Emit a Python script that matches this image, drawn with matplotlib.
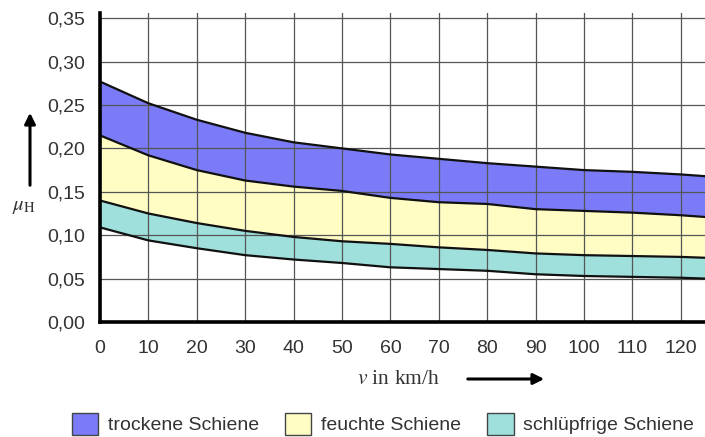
import matplotlib
matplotlib.use("Agg")
import matplotlib.pyplot as plt
from matplotlib.patches import Patch, FancyArrowPatch

# Speed (km/h) and adhesion coefficient bounds
speed = [0, 10, 20, 30, 40, 50, 60, 70, 80, 90, 100, 110, 120, 125]
dry_upper = [0.277, 0.252, 0.233, 0.218, 0.207, 0.200, 0.193, 0.188, 0.183, 0.179, 0.175, 0.173, 0.170, 0.168]
wet_upper = [0.215, 0.192, 0.175, 0.163, 0.156, 0.151, 0.143, 0.138, 0.136, 0.130, 0.128, 0.126, 0.123, 0.121]
slippery_upper = [0.140, 0.125, 0.114, 0.105, 0.098, 0.093, 0.090, 0.086, 0.083, 0.079, 0.077, 0.076, 0.075, 0.074]
slippery_lower = [0.109, 0.094, 0.085, 0.077, 0.072, 0.068, 0.063, 0.061, 0.059, 0.055, 0.053, 0.052, 0.051, 0.050]

x_ticks = [0, 10, 20, 30, 40, 50, 60, 70, 80, 90, 100, 110, 120]
y_ticks = [0.00, 0.05, 0.10, 0.15, 0.20, 0.25, 0.30, 0.35]
y_tick_labels = ["0,00", "0,05", "0,10", "0,15", "0,20", "0,25", "0,30", "0,35"]
legend_labels = ["trockene Schiene", "feuchte Schiene", "schlüpfrige Schiene"]

c_dry = "#7b7bf8"
c_wet = "#fffcc4"
c_slip = "#9fe0dc"
text_col = "#333333"

plt.rcParams["font.family"] = ["Liberation Sans", "DejaVu Sans"]
plt.rcParams["mathtext.fontset"] = "stix"

fig = plt.figure(figsize=(7.05, 4.37), dpi=100)
ax = fig.add_axes([100 / 705, 1 - 322 / 437, 605 / 705, 309 / 437])

ax.fill_between(speed, wet_upper, dry_upper, color=c_dry, lw=0, zorder=1)
ax.fill_between(speed, slippery_upper, wet_upper, color=c_wet, lw=0, zorder=1)
ax.fill_between(speed, slippery_lower, slippery_upper, color=c_slip, lw=0, zorder=1)

ax.set_xlim(0, 125)
ax.set_ylim(0, 0.356)
ax.set_xticks(x_ticks)
ax.set_yticks(y_ticks)
ax.set_yticklabels(y_tick_labels)
ax.grid(True, color="#555555", lw=0.9, zorder=2)
ax.set_axisbelow(False)

for curve in (dry_upper, wet_upper, slippery_upper, slippery_lower):
    ax.plot(speed, curve, color="#111111", lw=1.6, zorder=3)

ax.tick_params(length=0, labelsize=14, labelcolor=text_col)
ax.tick_params(axis="y", pad=11)
ax.tick_params(axis="x", pad=13)
for side in ("top", "right"):
    ax.spines[side].set_visible(False)
for side in ("left", "bottom"):
    ax.spines[side].set_linewidth(2.6)
    ax.spines[side].set_color("black")
    ax.spines[side].set_zorder(4)

# Axis labels with arrows
fig.text(24 / 705, 1 - 206 / 437, r"$\mu_{\mathrm{H}}$", fontsize=15,
         ha="center", va="center", color=text_col)
fig.patches.append(FancyArrowPatch((30 / 705, 1 - 188 / 437), (30 / 705, 1 - 110 / 437),
                                   transform=fig.transFigure, arrowstyle="-|>",
                                   mutation_scale=16, lw=2.2, color="black"))
fig.text(398 / 705, 1 - 380 / 437, r"$v$ in km/h", fontsize=15.5,
         family="Liberation Serif", ha="center", va="center", color=text_col)
fig.patches.append(FancyArrowPatch((465 / 705, 1 - 379 / 437), (547 / 705, 1 - 379 / 437),
                                   transform=fig.transFigure, arrowstyle="-|>",
                                   mutation_scale=16, lw=2.2, color="black"))

handles = [Patch(facecolor=c, edgecolor="#444444", lw=1.0) for c in (c_dry, c_wet, c_slip)]
leg = fig.legend(handles, legend_labels, loc="center", ncol=3,
                 bbox_to_anchor=(383 / 705, 1 - 424 / 437), frameon=False,
                 fontsize=14, handlelength=1.35, handleheight=1.35,
                 handletextpad=0.5, columnspacing=1.35, borderaxespad=0)
for t in leg.get_texts():
    t.set_color(text_col)

fig.savefig("out.png", dpi=100)
